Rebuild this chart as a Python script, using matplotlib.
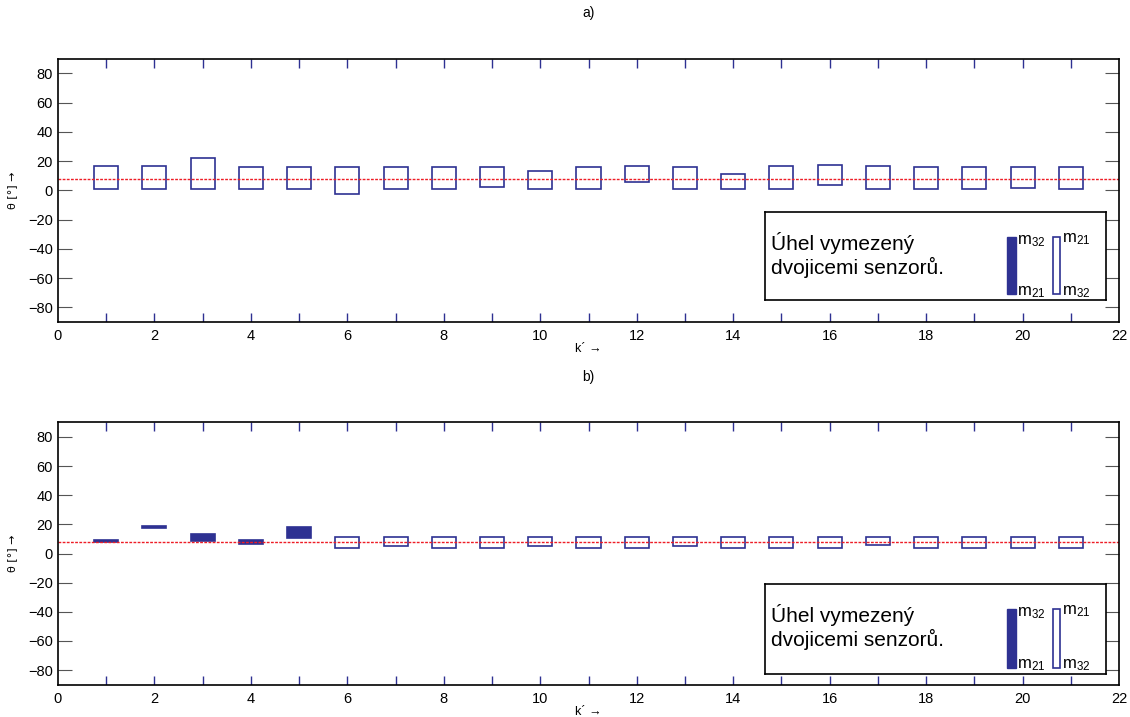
import matplotlib.pyplot as plt
from matplotlib.patches import Rectangle

plt.rcParams['font.family'] = ['Liberation Sans', 'DejaVu Sans']
plt.rcParams['mathtext.fontset'] = 'custom'
plt.rcParams['mathtext.rm'] = 'Liberation Sans'
plt.rcParams['mathtext.it'] = 'Liberation Sans'

# pořadí dvojice k'
k = list(range(1, 22))

# a) úhly pro dvojice senzorů
a_m21 = [16.6, 16.6, 21.8, 16.3, 16.3, 16.3, 16.3, 16.3, 16.3, 13.3, 16.3,
         16.6, 16.3, 11.5, 16.8, 17.5, 17.0, 16.3, 16.3, 16.3, 16.3]
a_m32 = [1.2, 1.2, 1.2, 1.2, 1.2, -2.3, 1.2, 1.2, 2.1, 1.2, 1.2,
         6.0, 1.2, 1.2, 1.2, 3.9, 1.2, 1.2, 1.2, 1.9, 1.2]
a_mean = 8.0

# b) úhly pro dvojice senzorů
b_m21 = [8.0, 17.7, 8.8, 6.5, 10.9, 11.3, 11.3, 11.3, 11.3, 11.3, 11.3,
         11.3, 11.3, 11.3, 11.3, 11.3, 11.3, 11.3, 11.3, 11.3, 11.3]
b_m32 = [9.5, 18.7, 13.6, 9.3, 18.4, 4.0, 5.4, 4.0, 4.0, 5.4, 4.0,
         4.0, 5.4, 4.0, 4.0, 4.0, 5.6, 4.0, 4.0, 4.0, 4.0]
b_mean = 8.2

BLUE = '#2e3192'
RED = '#ee1c25'


def legenda(ax, rect):
    lg = ax.inset_axes(rect)
    lg.set_xlim(0, 341)
    lg.set_ylim(88, 0)
    lg.set_xticks([])
    lg.set_yticks([])
    for s in lg.spines.values():
        s.set_linewidth(1.2)
    lg.text(6, 31, 'Úhel vymezený', fontsize=15, va='center', ha='left')
    lg.text(6, 55, 'dvojicemi senzorů.', fontsize=15, va='center', ha='left')
    lg.add_patch(Rectangle((242, 25), 9, 57, facecolor=BLUE, edgecolor=BLUE))
    lg.add_patch(Rectangle((288, 25), 7, 57, facecolor='white', edgecolor=BLUE, lw=1.2))
    lg.text(252, 29, r'm$_{32}$', fontsize=12, va='center', ha='left')
    lg.text(252, 80, r'm$_{21}$', fontsize=12, va='center', ha='left')
    lg.text(297, 27, r'm$_{21}$', fontsize=12, va='center', ha='left')
    lg.text(297, 80, r'm$_{32}$', fontsize=12, va='center', ha='left')


def graf(ax, m21, m32, mean, title, leg_rect):
    for xi, v21, v32 in zip(k, m21, m32):
        lo, hi = min(v21, v32), max(v21, v32)
        if v32 > v21:
            ax.bar(xi, hi - lo, bottom=lo, width=0.5, color=BLUE, edgecolor=BLUE, lw=1.2)
        else:
            ax.bar(xi, hi - lo, bottom=lo, width=0.5, color='none', edgecolor=BLUE, lw=1.2)
    # vousy mimo rozsah
    ax.vlines(k, 84, 90, color=BLUE, lw=1)
    ax.vlines(k, -90, -84, color=BLUE, lw=1)
    ax.axhline(mean, color=RED, ls=(0, (2, 1)), lw=1)

    ax.set_xlim(0, 22)
    ax.set_ylim(-90, 90)
    ax.set_xticks(range(0, 23, 2))
    ax.set_yticks(range(-80, 81, 20))
    ax.tick_params(axis='x', length=0, labelsize=10.5, pad=5)
    ax.tick_params(axis='y', direction='in', length=10, color='#555555',
                   left=True, right=True, labelsize=10.5)
    for s in ax.spines.values():
        s.set_linewidth(1.2)
    ax.set_xlabel('k´ →', fontsize=9, labelpad=0)
    ax.set_ylabel('θ [°] →', fontsize=8, labelpad=8, family=['DejaVu Sans'])
    ax.set_title(title, fontsize=10, pad=30)
    legenda(ax, leg_rect)


fig = plt.figure(figsize=(11.3, 7.17), dpi=100)
ax1 = fig.add_axes([0.0513, 0.551, 0.939, 0.367])
ax2 = fig.add_axes([0.0513, 0.045, 0.939, 0.366])

graf(ax1, a_m21, a_m32, a_mean, 'a)', [0.666, 0.082, 0.322, 0.335])
graf(ax2, b_m21, b_m32, b_mean, 'b)', [0.666, 0.042, 0.322, 0.343])

fig.savefig('out.png', dpi=100)
